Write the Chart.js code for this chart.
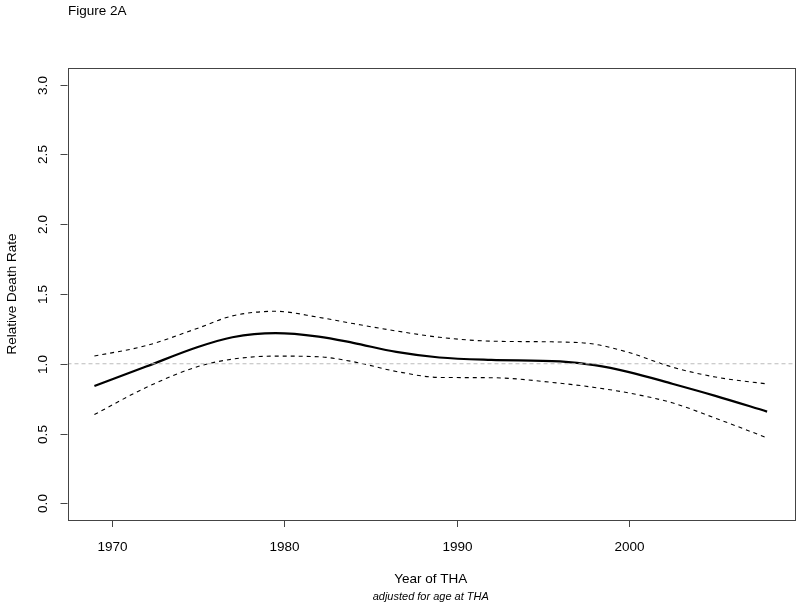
<!DOCTYPE html>
<html><head><meta charset="utf-8">
<script src="https://cdn.jsdelivr.net/npm/chart.js@4.4.1/dist/chart.umd.min.js"></script>
<style>html,body{margin:0;padding:0;background:#fff}#wrap{width:800px;height:608px;position:relative}</style>
</head><body><div id="wrap"><canvas id="c" width="800" height="608"></canvas></div>
<script>
const years    = [1969, 1972, 1975, 1977, 1979.5, 1982, 1984, 1986.5, 1989, 1992, 1996, 1998, 2000, 2002.5, 2005, 2008];
const estimate = [0.84, 0.98, 1.12, 1.19, 1.22, 1.195, 1.15, 1.085, 1.045, 1.028, 1.017, 0.99, 0.94, 0.857, 0.77, 0.657];
const upper    = [1.055, 1.13, 1.255, 1.343, 1.376, 1.333, 1.288, 1.235, 1.19, 1.162, 1.156, 1.14, 1.08, 0.976, 0.905, 0.855];
const lower    = [0.636, 0.83, 0.98, 1.033, 1.055, 1.05, 1.015, 0.945, 0.902, 0.9, 0.86, 0.83, 0.79, 0.72, 0.61, 0.469];
const xTicks = [1970, 1980, 1990, 2000];
const yTicks = [0.0, 0.5, 1.0, 1.5, 2.0, 2.5, 3.0];
const refValue = 1.0;
const xRange = [1967.44, 2009.56];
const yRange = [-0.12, 3.12];
const titleText = "Figure 2A";
const xTitle = "Year of THA";
const xSubTitle = "adjusted for age at THA";
const yTitle = "Relative Death Rate";

const FONT = '"Liberation Sans", Arial, Helvetica, sans-serif';
const pts = arr => years.map((y, i) => ({x: y, y: arr[i]}));

const decor = {
  id: 'decor',
  afterDraw(chart) {
    const ctx = chart.ctx, a = chart.chartArea;
    const xs = chart.scales.x, ys = chart.scales.y;
    ctx.save();
    ctx.strokeStyle = '#444';
    ctx.lineWidth = 1;
    ctx.strokeRect(Math.round(a.left) + 0.5, Math.round(a.top) + 0.5, Math.round(a.right - a.left), Math.round(a.bottom - a.top));
    ctx.fillStyle = '#000';
    ctx.font = '13.5px ' + FONT;
    ctx.textAlign = 'center'; ctx.textBaseline = 'middle';
    xTicks.forEach(t => {
      const px = Math.round(xs.getPixelForValue(t)) + 0.5;
      ctx.beginPath(); ctx.moveTo(px, a.bottom); ctx.lineTo(px, a.bottom + 7); ctx.stroke();
      ctx.fillText(String(t), px, a.bottom + 27);
    });
    yTicks.forEach(t => {
      const py = Math.round(ys.getPixelForValue(t)) + 0.5;
      ctx.beginPath(); ctx.moveTo(a.left, py); ctx.lineTo(a.left - 7, py); ctx.stroke();
      ctx.save();
      ctx.translate(a.left - 24, py);
      ctx.rotate(-Math.PI / 2);
      ctx.fillText(t.toFixed(1), 0, 0);
      ctx.restore();
    });
    ctx.textAlign = 'left';
    ctx.fillText(titleText, 68, 11);
    ctx.textAlign = 'center';
    const cx = (a.left + a.right) / 2;
    ctx.fillText(xTitle, cx, 579);
    ctx.font = 'italic 11px ' + FONT;
    ctx.fillText(xSubTitle, cx, 597);
    ctx.font = '13.5px ' + FONT;
    ctx.save();
    ctx.translate(12, (a.top + a.bottom) / 2);
    ctx.rotate(-Math.PI / 2);
    ctx.fillText(yTitle, 0, 0);
    ctx.restore();
    ctx.restore();
  }
};

new Chart(document.getElementById('c'), {
  type: 'line',
  data: {
    datasets: [
      { label: 'ref', data: [{x: xRange[0], y: refValue}, {x: xRange[1], y: refValue}],
        borderColor: '#bbbbbb', borderWidth: 1, borderDash: [4, 3], pointRadius: 0, tension: 0 },
      { label: 'upper', data: pts(upper), borderColor: '#000', borderWidth: 1.1, borderDash: [4, 4],
        pointRadius: 0, cubicInterpolationMode: 'monotone' },
      { label: 'lower', data: pts(lower), borderColor: '#000', borderWidth: 1.1, borderDash: [4, 4],
        pointRadius: 0, cubicInterpolationMode: 'monotone' },
      { label: 'estimate', data: pts(estimate), borderColor: '#000', borderWidth: 2.2,
        pointRadius: 0, cubicInterpolationMode: 'monotone' }
    ]
  },
  options: {
    responsive: false, devicePixelRatio: 1, animation: false,
    layout: { padding: { left: 67.5, right: 6, top: 68, bottom: 88 } },
    plugins: { legend: { display: false }, tooltip: { enabled: false }, title: { display: false } },
    scales: {
      x: { type: 'linear', min: xRange[0], max: xRange[1], display: false },
      y: { type: 'linear', min: yRange[0], max: yRange[1], display: false }
    }
  },
  plugins: [decor]
});
</script>
</body></html>
